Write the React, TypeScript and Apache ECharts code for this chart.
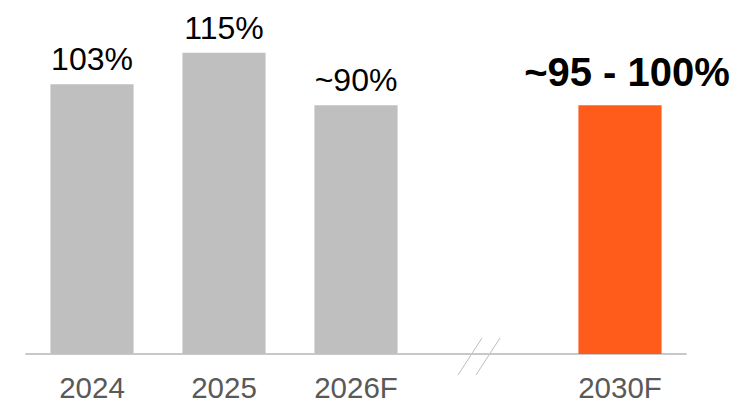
import React, { useEffect, useRef } from "react";
import * as echarts from "echarts";

const categories = ["2024", "2025", "2026F", "", "2030F"];
const values: (number | null)[] = [103, 115, 95, null, 95];
const valueLabels = ["103%", "115%", "~90%", "", "~95 - 100%"];
const barColors = ["#bfbfbf", "#bfbfbf", "#bfbfbf", "#bfbfbf", "#ff5b1a"];
const highlightIndex = 4;
const breakIndex = 3;

export default function App() {
  const ref = useRef<HTMLDivElement>(null);
  useEffect(() => {
    document.body.style.margin = "0";
    const chart = echarts.init(ref.current!, undefined, { renderer: "svg" });
    const font = "'Liberation Sans', Arial, sans-serif";
    chart.setOption({
      animation: false,
      grid: { left: 26, right: 57, top: 13.5, bottom: 45.3, containLabel: false },
      xAxis: {
        type: "category",
        data: categories,
        axisLine: { show: true, lineStyle: { color: "#c8c8c8", width: 2 } },
        axisTick: { show: false },
        axisLabel: { color: "#595959", fontSize: 29.5, fontFamily: font, margin: 18 },
      },
      yAxis: { type: "value", min: 0, max: 130, show: false, splitLine: { show: false } },
      series: [
        {
          type: "bar",
          barCategoryGap: "37%",
          data: values.map((v, i) => ({
            value: v,
            itemStyle: { color: barColors[i] },
            label: {
              show: v !== null,
              position: "top",
              distance: i === highlightIndex ? 13 : 9,
              offset: i === highlightIndex ? [7, 0] : [0, 0],
              formatter: valueLabels[i],
              color: "#000000",
              fontFamily: font,
              fontSize: i === highlightIndex ? 40 : 32,
              fontWeight: i === highlightIndex ? "bold" : "normal",
            },
          })),
        },
      ],
    });
    const [cx, cy] = chart.convertToPixel({ gridIndex: 0 }, [breakIndex, 0]) as number[];
    const bx = cx - 9;
    const mk = (dx: number) => ({
      type: "line",
      shape: { x1: bx + dx + 12, y1: cy - 16, x2: bx + dx - 12, y2: cy + 21 },
      style: { stroke: "#bdbdbd", lineWidth: 1 },
    });
    chart.setOption({ graphic: [mk(-9), mk(9)] });
    return () => chart.dispose();
  }, []);
  return <div ref={ref} style={{ width: 743, height: 402 }} />;
}
